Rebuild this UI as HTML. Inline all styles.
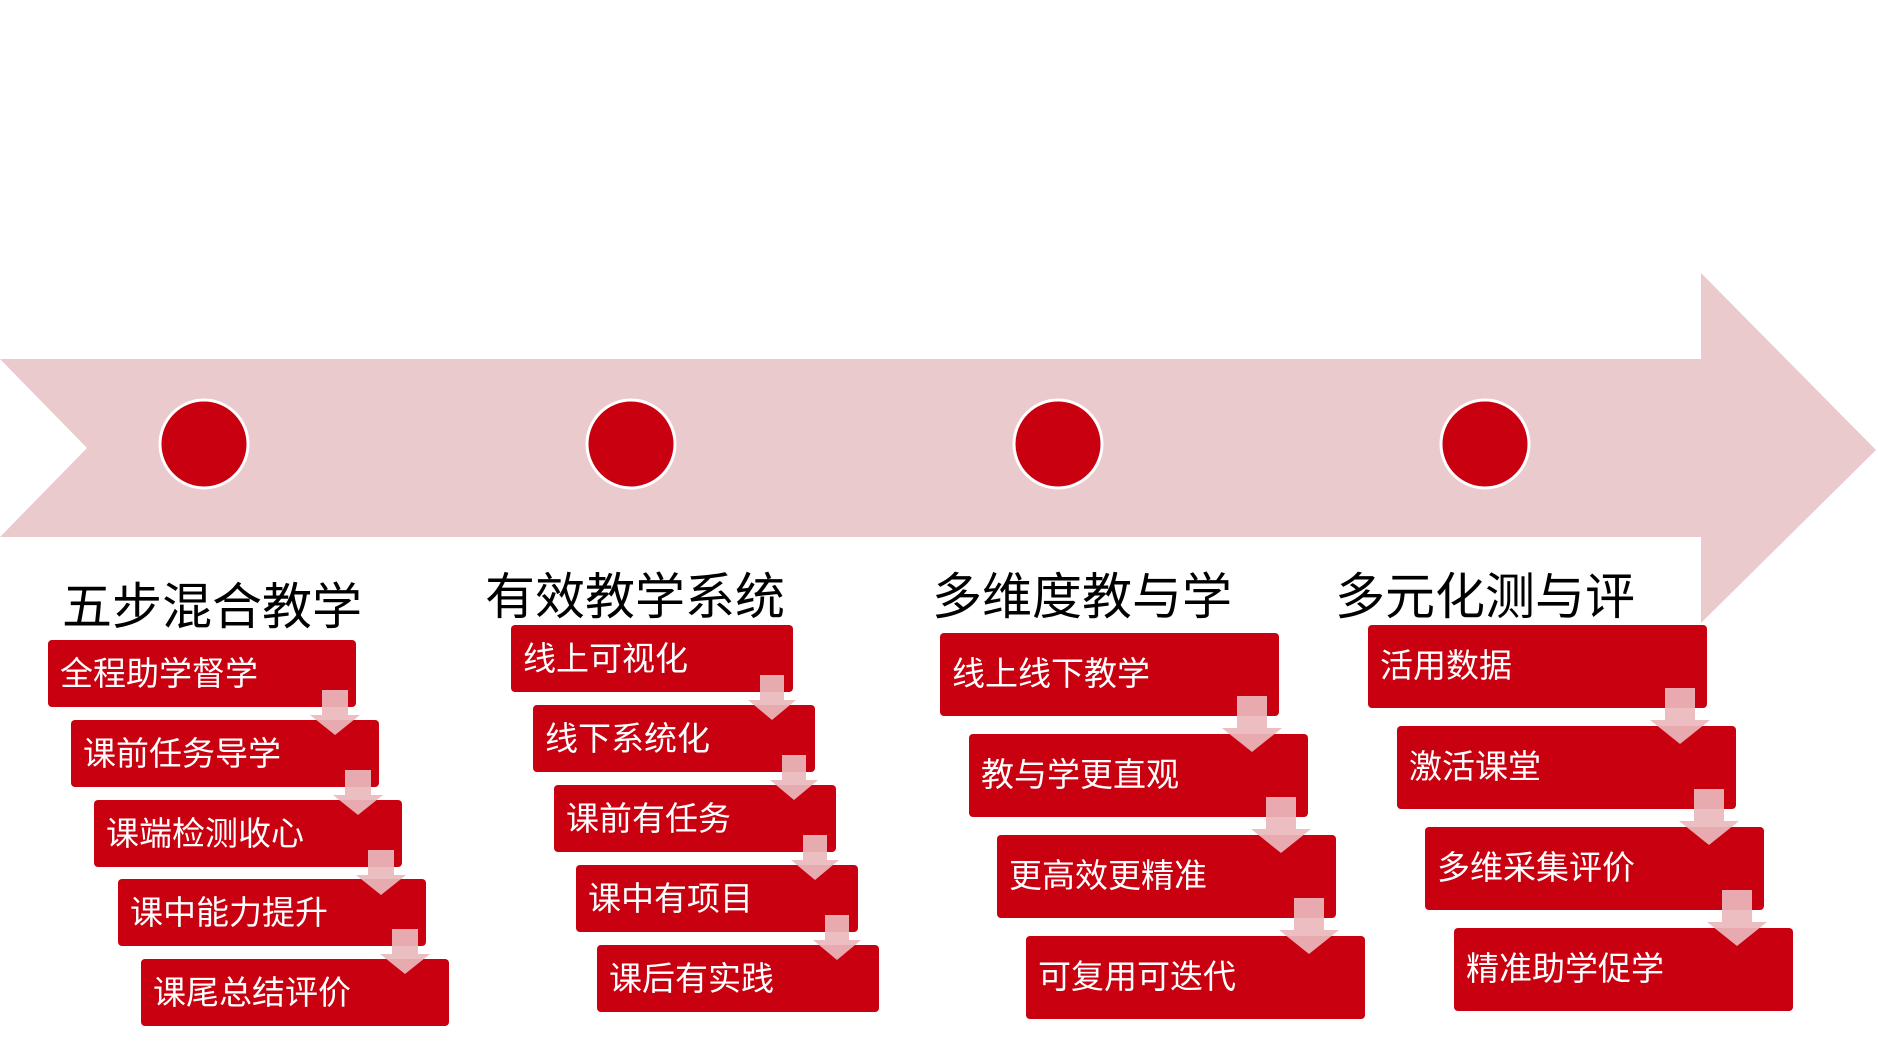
<!DOCTYPE html>
<html><head><meta charset="utf-8"><style>
body{margin:0;background:#fff;width:1878px;height:1046px;overflow:hidden}
svg text{font-family:"Liberation Sans","Noto Sans CJK SC",sans-serif}
.t{font-size:50px;fill:#000}
.b{font-size:33px;fill:#fff}
</style></head><body>
<svg width="1878" height="1046" xmlns="http://www.w3.org/2000/svg">
<polygon points="0,359 1701,359 1701,273 1876,450 1701,623 1701,537 0,537 87,448" fill="#eacacc"/>
<g fill="#c8000f" stroke="#fff" stroke-width="3">
<circle cx="204" cy="444" r="44"/><circle cx="631" cy="444" r="44"/><circle cx="1058" cy="444" r="44"/><circle cx="1485" cy="444" r="44"/>
</g>
<text class="t" x="62" y="624">五步混合教学</text>
<text class="t" x="485" y="614">有效教学系统</text>
<text class="t" x="932" y="614">多维度教与学</text>
<text class="t" x="1335" y="614">多元化测与评</text>
<g fill="#c8000f">
<rect x="48" y="640" width="308" height="67" rx="4"/>
<rect x="71" y="720" width="308" height="67" rx="4"/>
<rect x="94" y="800" width="308" height="67" rx="4"/>
<rect x="118" y="879" width="308" height="67" rx="4"/>
<rect x="141" y="959" width="308" height="67" rx="4"/>
<rect x="511" y="625" width="282" height="67" rx="4"/>
<rect x="533" y="705" width="282" height="67" rx="4"/>
<rect x="554" y="785" width="282" height="67" rx="4"/>
<rect x="576" y="865" width="282" height="67" rx="4"/>
<rect x="597" y="945" width="282" height="67" rx="4"/>
<rect x="940" y="633" width="339" height="83" rx="4"/>
<rect x="969" y="734" width="339" height="83" rx="4"/>
<rect x="997" y="835" width="339" height="83" rx="4"/>
<rect x="1026" y="936" width="339" height="83" rx="4"/>
<rect x="1368" y="625" width="339" height="83" rx="4"/>
<rect x="1397" y="726" width="339" height="83" rx="4"/>
<rect x="1425" y="827" width="339" height="83" rx="4"/>
<rect x="1454" y="928" width="339" height="83" rx="4"/>
</g>
<g class="b">
<text class="b" x="60" y="685">全程助学督学</text>
<text class="b" x="83" y="765">课前任务导学</text>
<text class="b" x="106" y="845">课端检测收心</text>
<text class="b" x="130" y="924">课中能力提升</text>
<text class="b" x="153" y="1004">课尾总结评价</text>
<text class="b" x="523" y="670">线上可视化</text>
<text class="b" x="545" y="750">线下系统化</text>
<text class="b" x="566" y="830">课前有任务</text>
<text class="b" x="588" y="910">课中有项目</text>
<text class="b" x="609" y="990">课后有实践</text>
<text class="b" x="952" y="685">线上线下教学</text>
<text class="b" x="981" y="786">教与学更直观</text>
<text class="b" x="1009" y="887">更高效更精准</text>
<text class="b" x="1038" y="988">可复用可迭代</text>
<text class="b" x="1380" y="677">活用数据</text>
<text class="b" x="1409" y="778">激活课堂</text>
<text class="b" x="1437" y="879">多维采集评价</text>
<text class="b" x="1466" y="980">精准助学促学</text>
</g>
<g fill="#eab9bd" opacity="0.92">
<polygon points="322,690 348,690 348,715 360,715 335,735 310,715 322,715"/>
<polygon points="345,770 371,770 371,795 383,795 358,815 333,795 345,795"/>
<polygon points="368,850 394,850 394,875 406,875 381,895 356,875 368,875"/>
<polygon points="392,929 418,929 418,954 430,954 405,974 380,954 392,954"/>
<polygon points="760,675 784,675 784,700 796,700 772,720 748,700 760,700"/>
<polygon points="782,755 806,755 806,780 818,780 794,800 770,780 782,780"/>
<polygon points="803,835 827,835 827,860 839,860 815,880 791,860 803,860"/>
<polygon points="825,915 849,915 849,940 861,940 837,960 813,940 825,940"/>
<polygon points="1237,696 1267,696 1267,728 1282,728 1252,752 1222,728 1237,728"/>
<polygon points="1266,797 1296,797 1296,829 1311,829 1281,853 1251,829 1266,829"/>
<polygon points="1294,898 1324,898 1324,930 1339,930 1309,954 1279,930 1294,930"/>
<polygon points="1665,688 1695,688 1695,720 1710,720 1680,744 1650,720 1665,720"/>
<polygon points="1694,789 1724,789 1724,821 1739,821 1709,845 1679,821 1694,821"/>
<polygon points="1722,890 1752,890 1752,922 1767,922 1737,946 1707,922 1722,922"/>
</g>
</svg>
</body></html>
